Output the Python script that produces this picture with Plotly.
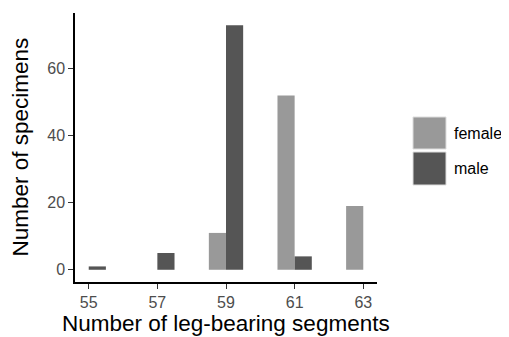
import plotly.graph_objects as go

segments = [55, 57, 59, 61, 63]
female = [0, 0, 11, 52, 19]
male = [1, 5, 73, 4, 0]
sexes = ["female", "male"]
colors = {"female": "#999999", "male": "#555555"}
xticks = [55, 57, 59, 61, 63]
yticks = [0, 20, 40, 60]

OFF = 8  # default page body margin
W, H = 509 - OFF, 337 - OFF
L, T = 75 - OFF, 13 - OFF
R = W - (377 - OFF)
B = H - (282 - OFF)
PW, PH = W - L - R, H - T - B

def px(x):
    return (x - OFF - L) / PW

def py(y):
    return (H - B - (y - OFF)) / PH

fig = go.Figure()
for name, vals in zip(sexes, [female, male]):
    fig.add_trace(go.Bar(x=segments, y=vals, name=name,
                         marker=dict(color=colors[name], line=dict(width=0)),
                         showlegend=False))

fig.update_layout(
    width=W, height=H,
    margin=dict(l=L, r=R, t=T, b=B, autoexpand=False),
    barmode="group", bargap=0.5, bargroupgap=0,
    plot_bgcolor="white", paper_bgcolor="white",
    font=dict(family="Liberation Sans, Arial, sans-serif", color="black"),
    xaxis=dict(range=[54.6, 63.4], tickmode="array", tickvals=xticks,
               ticktext=[str(t) for t in xticks],
               showline=True, linecolor="black", linewidth=1.5,
               ticks="outside", ticklen=5, tickcolor="#333333",
               showgrid=False, zeroline=False,
               tickfont=dict(size=16, color="#4d4d4d")),
    yaxis=dict(range=[-3.65, 76.65], tickmode="array", tickvals=yticks,
               showline=True, linecolor="black", linewidth=1.5,
               ticks="outside", ticklen=5, tickcolor="#333333",
               showgrid=False, zeroline=False,
               tickfont=dict(size=16, color="#4d4d4d")),
)

# axis titles
fig.add_annotation(xref="paper", yref="paper", x=0.5, y=0, yanchor="middle",
                   yshift=-(323 - 282), text="Number of leg-bearing segments",
                   showarrow=False, font=dict(size=22.5, color="black"))
fig.add_annotation(xref="paper", yref="paper", x=0, y=0.5, xanchor="center",
                   xshift=-(75 - 20), textangle=-90, text="Number of specimens",
                   showarrow=False, font=dict(size=22.5, color="black"))

# manual legend with large keys
keys = [("female", 117, 149), ("male", 152, 185)]
for name, y0, y1 in keys:
    fig.add_shape(type="rect", xref="paper", yref="paper",
                  x0=px(413), x1=px(446), y0=py(y1), y1=py(y0),
                  fillcolor=colors[name], line=dict(color="#dddddd", width=1))
    fig.add_annotation(xref="paper", yref="paper", x=px(452), y=py((y0 + y1) / 2),
                       text=name, showarrow=False, xanchor="left", yanchor="middle",
                       font=dict(size=16, color="black"))

fig.write_html("out.html")
